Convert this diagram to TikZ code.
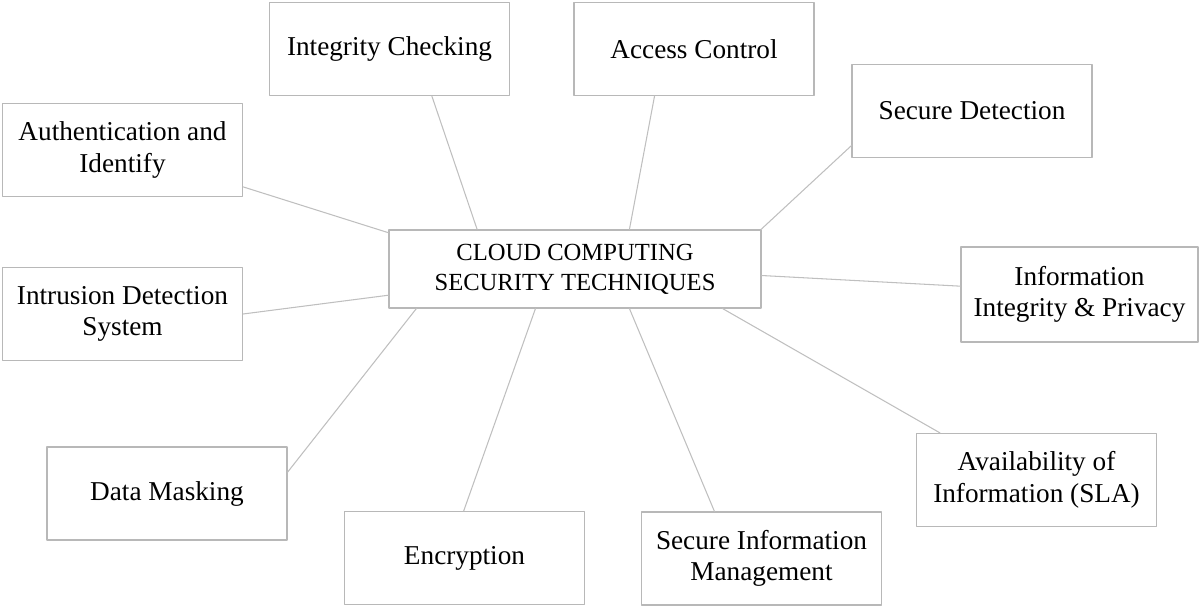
\documentclass[tikz,border=0pt]{standalone}
\usepackage{fontspec}
\setmainfont{Liberation Serif}
\begin{document}
\begin{tikzpicture}[line join=round, line cap=round, font=\fontsize{14}{17}\selectfont,
		box/.style={draw=black!28, line width=0.6pt, fill=white, align=center, inner sep=2pt},
		tech/.style={box, minimum width=4.8cm, minimum height=1.86cm, font=\fontsize{15.5}{18}\selectfont},
		link/.style={draw=black!25, line width=0.6pt}]
			\useasboundingbox (0,0) rectangle (24,12.18);
			% hub
			\node[box, minimum width=7.44cm, minimum height=1.56cm] (cc) at (11.5,6.8) {CLOUD COMPUTING\\SECURITY TECHNIQUES};
			% techniques round it
			\node[tech] (ic) at (7.79,11.2) {Integrity Checking};
			\node[tech] (ac) at (13.88,11.2) {Access Control};
			\node[tech] (sd) at (19.44,9.96) {Secure Detection};
			\node[tech] (au) at (2.45,9.18) {Authentication and\\Identify};
			\node[tech] (id) at (2.45,5.9) {Intrusion Detection\\System};
			\node[tech, minimum width=4.74cm, minimum height=1.9cm] (ip) at (21.59,6.29) {Information\\Integrity \& Privacy};
			\node[tech] (av) at (20.73,2.58) {Availability of\\Information (SLA)};
			\node[tech] (dm) at (3.34,2.31) {Data Masking};
			\node[tech] (en) at (9.29,1.02) {Encryption};
			\node[tech] (sm) at (15.23,1.01) {Secure Information\\Management};
			\foreach \n/\a/\b in {ic/-48/158, ac/-130/36, sd/-164/12.7, au/-17/169.6, id/0.5/188.9,
				dm/10.2/-166.6, en/91.8/-135, sm/135.6/-36.3, av/154/-15.7, ip/176.9/-2.8} {
				\draw[link] (\n.\a) -- (cc.\b);
			}
		\end{tikzpicture}
\end{document}
